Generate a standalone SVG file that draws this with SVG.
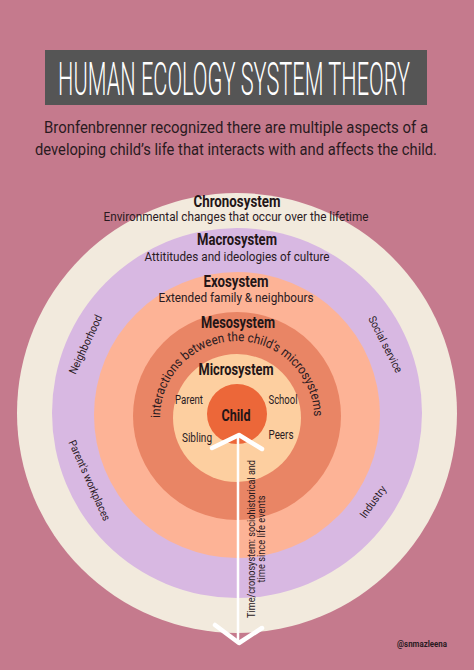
<svg xmlns="http://www.w3.org/2000/svg" width="474" height="670" viewBox="0 0 474 670">
<style>
.t{font-family:Roboto,"Liberation Sans",sans-serif;fill:#2a1a1f}
.h{font-family:Roboto,"Liberation Sans",sans-serif;font-weight:bold;font-size:17px;fill:#231517;text-anchor:middle}
.s{font-family:Roboto,"Liberation Sans",sans-serif;font-size:13px;fill:#2a1a1f;text-anchor:middle}
.m{font-family:Roboto,"Liberation Sans",sans-serif;font-size:12px;fill:#2a1a1f;text-anchor:middle}
.r{font-family:Roboto,"Liberation Sans",sans-serif;font-size:11px;fill:#2a1a1f;text-anchor:middle}
.arw{fill:none;stroke:#fff;stroke-linecap:round;stroke-linejoin:round}
</style>
<defs>
<path id="arc" d="M 160 418 A 77 77 0 0 1 314 418"/>
</defs>
<rect width="474" height="670" fill="#C57A8D"/>
<g id="title">
<rect x="45" y="50" width="382" height="55" fill="#555555"/>
<text x="58" y="95" textLength="352" lengthAdjust="spacingAndGlyphs" font-family="Roboto,'Liberation Sans',sans-serif" font-weight="300" font-size="46" fill="#ffffff">HUMAN ECOLOGY SYSTEM THEORY</text>
</g>
<g id="intro">
<text class="t" x="44" y="133" font-size="17" textLength="384" lengthAdjust="spacingAndGlyphs">Bronfenbrenner recognized there are multiple aspects of a</text>
<text class="t" x="35" y="155" font-size="17" textLength="402" lengthAdjust="spacingAndGlyphs">developing child’s life that interacts with and affects the child.</text>
</g>
<g id="chronosystem">
<circle cx="237" cy="413" r="220" fill="#F2EADD"/>
<text class="h" x="237" y="207" textLength="87" lengthAdjust="spacingAndGlyphs">Chronosystem</text>
<text class="s" x="236" y="221" textLength="265" lengthAdjust="spacingAndGlyphs">Environmental changes that occur over the lifetime</text>
</g>
<g id="macrosystem">
<circle cx="237" cy="413" r="185" fill="#D8B8E2"/>
<text class="h" x="237" y="245" textLength="80" lengthAdjust="spacingAndGlyphs">Macrosystem</text>
<text class="s" x="237" y="261" textLength="185" lengthAdjust="spacingAndGlyphs">Attititudes and ideologies of culture</text>
<text class="r" transform="translate(89,346) rotate(-65)" textLength="64" lengthAdjust="spacingAndGlyphs">Neighborhood</text>
<text class="r" transform="translate(86,482) rotate(66)" textLength="87" lengthAdjust="spacingAndGlyphs">Parent's workplaces</text>
<text class="r" transform="translate(382,346) rotate(63)" textLength="62" lengthAdjust="spacingAndGlyphs">Social service</text>
<text class="r" transform="translate(376,504) rotate(-54)" textLength="37" lengthAdjust="spacingAndGlyphs">Industry</text>
</g>
<g id="exosystem">
<circle cx="237" cy="415" r="143" fill="#FDB396"/>
<text class="h" x="236" y="287" textLength="65" lengthAdjust="spacingAndGlyphs">Exosystem</text>
<text class="s" x="236" y="302" textLength="155" lengthAdjust="spacingAndGlyphs">Extended family &amp; neighbours</text>
</g>
<g id="mesosystem">
<circle cx="237" cy="416" r="104" fill="#E98565"/>
<text class="h" x="238" y="328" textLength="74" lengthAdjust="spacingAndGlyphs">Mesosystem</text>
<text class="t" font-size="13"><textPath href="#arc" textLength="240" lengthAdjust="spacingAndGlyphs">interactions between the child’s microsystems</textPath></text>
</g>
<g id="microsystem">
<circle cx="237" cy="418" r="64" fill="#FDCFA0"/>
<text class="h" x="236" y="375" textLength="75" lengthAdjust="spacingAndGlyphs">Microsystem</text>
<text class="m" x="189" y="404" textLength="28" lengthAdjust="spacingAndGlyphs">Parent</text>
<text class="m" x="283" y="404" textLength="29" lengthAdjust="spacingAndGlyphs">School</text>
<text class="m" x="197" y="442" textLength="30" lengthAdjust="spacingAndGlyphs">Sibling</text>
<text class="m" x="281" y="439" textLength="25" lengthAdjust="spacingAndGlyphs">Peers</text>
</g>
<g id="child">
<circle cx="237" cy="414" r="30" fill="#EC6739"/>
<text class="h" x="236" y="421" textLength="29" lengthAdjust="spacingAndGlyphs">Child</text>
</g>
<g id="connectors">
<line class="arw" x1="238" y1="436" x2="238" y2="642" stroke-width="2.5"/>
<polyline class="arw" points="212,448 239,435 262,449" stroke-width="4.5"/>
<polyline class="arw" points="215,625 239,643 262,628" stroke-width="4.5"/>
</g>
<g id="time-label">
<text class="r" transform="translate(255,539) rotate(-90)" textLength="158" lengthAdjust="spacingAndGlyphs">Time/cronosystem: sociohistorical and</text>
<text class="r" transform="translate(265,539) rotate(-90)" textLength="87" lengthAdjust="spacingAndGlyphs">time since life events</text>
</g>
<g id="credit">
<text x="422" y="647" text-anchor="middle" font-family="Roboto,'Liberation Sans',sans-serif" font-weight="bold" font-size="9.5" fill="#2a1a1f" textLength="50" lengthAdjust="spacingAndGlyphs">@snmazleena</text>
</g>
</svg>
